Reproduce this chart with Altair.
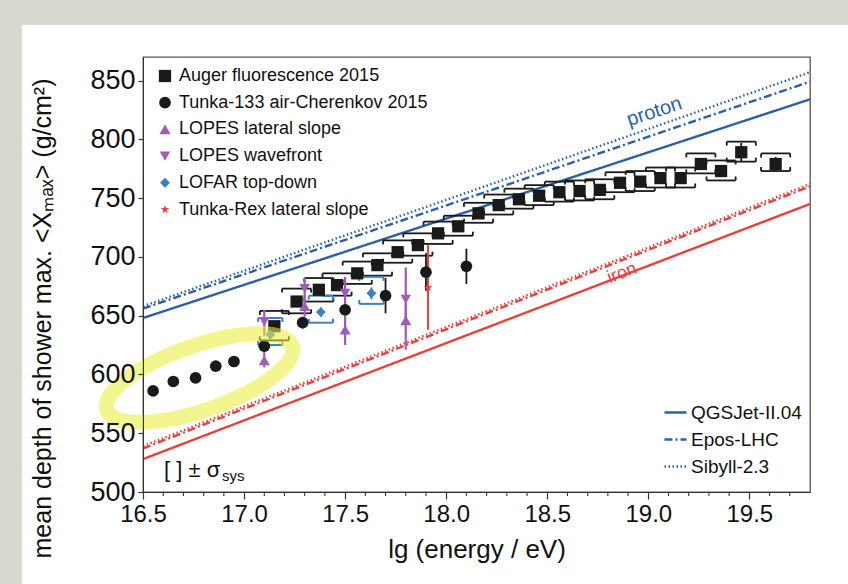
import altair as alt
import pandas as pd

# ---------------- data ----------------
auger_x = [17.15, 17.26, 17.37, 17.46, 17.56, 17.66, 17.76, 17.86, 17.96, 18.06, 18.16, 18.26, 18.36,
           18.46, 18.56, 18.66, 18.76, 18.86, 18.96, 19.06, 19.16, 19.26, 19.36, 19.46, 19.63]
auger_y = [641, 662, 672, 676, 686, 693, 704, 710, 720, 726, 737, 744, 749,
           752, 755, 756, 757, 763, 764, 767, 767, 779, 773, 789, 779]
auger_stat = [1, 1, 1, 1, 1, 1, 1, 1, 1, 1, 1, 1, 2, 2, 2, 2, 2, 2, 2, 3, 3, 4, 5, 8, 6]
auger_sys_up = [13, 11, 10, 10, 10, 10, 10, 10, 10, 9, 9, 9, 9, 9, 9, 9, 9, 9, 9, 9, 9, 9, 9, 9, 9]
auger_sys_dn = [12, 10, 10, 9, 9, 9, 9, 9, 9, 8, 8, 8, 8, 8, 8, 8, 8, 8, 8, 8, 8, 8, 8, 8, 6]

tunka_x = [16.55, 16.65, 16.76, 16.86, 16.95, 17.10, 17.29, 17.50, 17.70, 17.90, 18.10]
tunka_y = [586, 594, 597, 607, 611, 624, 644, 655, 667, 687, 692]
tunka_err = [2, 2, 2, 2, 2, 4, 5, 7, 15, 16, 15]

lopes_lat_x = [17.10, 17.30, 17.50, 17.80]
lopes_lat_y = [612, 658, 638, 646]
lopes_lat_lo = [606, 649, 625, 621]
lopes_lat_hi = [623, 668, 651, 660]

lopes_wf_x = [17.10, 17.30, 17.50, 17.80]
lopes_wf_y = [645, 673, 669, 664]
lopes_wf_lo = [633, 660, 655, 645]
lopes_wf_hi = [655, 682, 683, 691]

lofar_x = [17.13, 17.38, 17.63]
lofar_y = [634, 653, 669]
lofar_stat = [4, 4, 5]
lofar_sys_up = [14, 14, 14]
lofar_sys_dn = [9, 9, 9]

rex_x = [17.91]
rex_y = [674]
rex_lo = [638]
rex_hi = [710]

series_names = ["Auger fluorescence 2015", "Tunka-133 air-Cherenkov 2015", "LOPES lateral slope",
                "LOPES wavefront", "LOFAR top-down", "Tunka-Rex lateral slope"]

model_names = ["QGSJet-II.04", "Epos-LHC", "Sibyll-2.3"]
lg_ends = [16.5, 19.8]
proton_left = [648, 656, 658]
proton_right = [834, 849, 857]
iron_left = [528, 537, 539]
iron_right = [745, 760, 762]

x_major = [16.5, 17.0, 17.5, 18.0, 18.5, 19.0, 19.5]
x_minor = [16.6, 16.7, 16.8, 16.9, 17.1, 17.2, 17.3, 17.4, 17.6, 17.7, 17.8, 17.9,
           18.1, 18.2, 18.3, 18.4, 18.6, 18.7, 18.8, 18.9, 19.1, 19.2, 19.3, 19.4, 19.6, 19.7]
y_major = [500, 550, 600, 650, 700, 750, 800, 850]

# ---------------- styling ----------------
BLACK = "#1a1a1a"
PURPLE = "#a15cb6"
BLUE_PT = "#3a80c6"
RED = "#e8413c"
BLUE_LINE = "#2c5fa8"
RED_LINE = "#e8413c"
GRAYBG = "#d9d9d0"
STAR = "M0,-1L0.235,-0.324L0.951,-0.309L0.38,0.124L0.588,0.809L0,0.4L-0.588,0.809L-0.38,0.124L-0.951,-0.309L-0.235,-0.324Z"
ELLIPSE = "M-1,0A1,0.33,0,1,0,1,0A1,0.33,0,1,0,-1,0Z"
W, H = 667, 435
PL, PT = 143, 57
XDOM = [16.5, 19.8]
YDOM = [500, 870]
SANS = "Liberation Sans, Arial, Helvetica"

xs = alt.Scale(domain=XDOM, nice=False, zero=False)
ys = alt.Scale(domain=YDOM, nice=False, zero=False)

# ---------------- tables ----------------
pts = []
for x, y in zip(auger_x, auger_y):
    pts.append((series_names[0], x, y))
for x, y in zip(tunka_x, tunka_y):
    pts.append((series_names[1], x, y))
for x, y in zip(lopes_lat_x, lopes_lat_y):
    pts.append((series_names[2], x, y))
for x, y in zip(lopes_wf_x, lopes_wf_y):
    pts.append((series_names[3], x, y))
for x, y in zip(lofar_x, lofar_y):
    pts.append((series_names[4], x, y))
for x, y in zip(rex_x, rex_y):
    pts.append((series_names[5], x, y))
pts_df = pd.DataFrame(pts, columns=["series", "lg", "xmax"])


def brackets(xv, yv, up, dn, half, tick):
    seg = []
    for x, y, u, d in zip(xv, yv, up, dn):
        t, b = y + u, y - d
        seg += [(x - half, x + half, t, t), (x - half, x - half, t, t - tick), (x + half, x + half, t, t - tick),
                (x - half, x + half, b, b), (x - half, x - half, b, b + tick), (x + half, x + half, b, b + tick)]
    return seg


def vbars(xv, lo, hi):
    return [(x, x, l, h) for x, l, h in zip(xv, lo, hi)]


cols = ["x1", "x2", "y1", "y2"]
black_seg = brackets(auger_x, auger_y, auger_sys_up, auger_sys_dn, 0.072, 3.4)
black_seg += vbars(auger_x, [y - s for y, s in zip(auger_y, auger_stat)], [y + s for y, s in zip(auger_y, auger_stat)])
black_seg += vbars(tunka_x, [y - e for y, e in zip(tunka_y, tunka_err)], [y + e for y, e in zip(tunka_y, tunka_err)])
black_df = pd.DataFrame(black_seg, columns=cols)

purple_df = pd.DataFrame(vbars(lopes_lat_x, lopes_lat_lo, lopes_lat_hi) + vbars(lopes_wf_x, lopes_wf_lo, lopes_wf_hi), columns=cols)
blue_seg = brackets(lofar_x, lofar_y, lofar_sys_up, lofar_sys_dn, 0.06, 3.4)
blue_seg += vbars(lofar_x, [y - s for y, s in zip(lofar_y, lofar_stat)], [y + s for y, s in zip(lofar_y, lofar_stat)])
blue_df = pd.DataFrame(blue_seg, columns=cols)
red_df = pd.DataFrame(vbars(rex_x, rex_lo, rex_hi), columns=cols)

lines = []
for m, l, r in zip(model_names, proton_left, proton_right):
    lines += [("proton", m, lg_ends[0], l), ("proton", m, lg_ends[1], r)]
for m, l, r in zip(model_names, iron_left, iron_right):
    lines += [("iron", m, lg_ends[0], l), ("iron", m, lg_ends[1], r)]
lines_df = pd.DataFrame(lines, columns=["comp", "model", "lg", "xmax"])

one = pd.DataFrame({"a": [0]})

# ---------------- layers ----------------
strip_top = alt.Chart(one).mark_rect(color=GRAYBG).encode(
    x=alt.value(-PL), x2=alt.value(848 - PL), y=alt.value(-PT), y2=alt.value(25 - PT))
strip_left = alt.Chart(one).mark_rect(color=GRAYBG).encode(
    x=alt.value(-PL), x2=alt.value(22 - PL), y=alt.value(-PT), y2=alt.value(584 - PT))

model_lines = alt.Chart(lines_df).mark_line(strokeWidth=2.4, clip=True).encode(
    x=alt.X("lg:Q", scale=xs,
            axis=alt.Axis(values=x_major, format=".1f", title="lg (energy / eV)", grid=False, zindex=1,
                          tickSize=7, tickWidth=1.2, tickColor="#333", domainColor="#333",
                          labelFont=SANS, labelFontSize=24, labelColor="#111", labelPadding=3,
                          labelFlush=False, labelOverlap=False,
                          titleFont=SANS, titleFontSize=26, titleFontWeight="normal", titleColor="#111",
                          titlePadding=10)),
    y=alt.Y("xmax:Q", scale=ys,
            axis=alt.Axis(values=y_major, format="d", title="mean depth of shower max. <Xₘₐₓ> (g/cm²)",
                          grid=False, zindex=1, tickSize=5, tickWidth=1.2, tickColor="#333", domainColor="#333",
                          labelFont=SANS, labelFontSize=27, labelColor="#111", labelPadding=3,
                          labelFlush=False, labelOverlap=False,
                          titleFont=SANS, titleFontSize=25, titleFontWeight="normal", titleColor="#111",
                          titleX=-101, titleY=261, titleAngle=270, titleAlign="center",
                          titleBaseline="middle")),
    stroke=alt.Stroke("comp:N", scale=alt.Scale(domain=["proton", "iron"], range=[BLUE_LINE, RED_LINE]), legend=None),
    strokeDash=alt.StrokeDash("model:N", scale=alt.Scale(domain=model_names, range=[[1, 0], [8, 3, 2, 3], [1.5, 2.5]]),
                              legend=alt.Legend(title=None, orient="none", legendX=520, legendY=343,
                                                symbolType="stroke", symbolSize=484, symbolStrokeWidth=2.4,
                                                symbolStrokeColor=BLUE_LINE, labelFont=SANS, labelFontSize=19,
                                                labelColor="#111", rowPadding=4, labelOffset=3, padding=0,
                                                labelLimit=0)),
)


def seg_layer(df, color, width=1.8):
    return alt.Chart(df).mark_rule(color=color, strokeWidth=width).encode(
        x=alt.X("x1:Q", scale=xs), x2="x2:Q", y=alt.Y("y1:Q", scale=ys), y2="y2:Q")


sym_legend = alt.Legend(title=None, orient="none", legendX=13, legendY=10, symbolSize=140,
                        labelFont=SANS, labelFontSize=18, labelColor="#111", rowPadding=8.7,
                        labelOffset=5, padding=0, symbolStrokeWidth=0, labelLimit=0)

points = alt.Chart(pts_df).mark_point(filled=True, opacity=1).encode(
    x=alt.X("lg:Q", scale=xs),
    y=alt.Y("xmax:Q", scale=ys),
    shape=alt.Shape("series:N", scale=alt.Scale(domain=series_names,
                                                range=["square", "circle", "triangle-up", "triangle-down", "diamond", STAR]),
                    legend=sym_legend),
    color=alt.Color("series:N", scale=alt.Scale(domain=series_names,
                                                range=[BLACK, BLACK, PURPLE, PURPLE, BLUE_PT, RED]),
                    legend=sym_legend),
    size=alt.Size("series:N", scale=alt.Scale(domain=series_names, range=[150, 85, 115, 115, 230, 110]), legend=None),
)

ellipse_df = pd.DataFrame({"lg": [16.78], "xmax": [597]})
ellipse = alt.Chart(ellipse_df).mark_point(shape=ELLIPSE, filled=False, stroke="#ebee3c", strokeWidth=15,
                                           strokeOpacity=0.82, size=38416, angle=341).encode(
    x=alt.X("lg:Q", scale=xs), y=alt.Y("xmax:Q", scale=ys))

ann_df = pd.DataFrame({"lg": [19.03, 18.87], "xmax": [823.5, 686], "txt": ["proton", "iron"]})
proton_txt = alt.Chart(ann_df.iloc[[0]]).mark_text(font=SANS, fontSize=20, color=BLUE_LINE, angle=342).encode(
    x=alt.X("lg:Q", scale=xs), y=alt.Y("xmax:Q", scale=ys), text="txt:N")
iron_txt = alt.Chart(ann_df.iloc[[1]]).mark_text(font=SANS, fontSize=18, color=RED, angle=339).encode(
    x=alt.X("lg:Q", scale=xs), y=alt.Y("xmax:Q", scale=ys), text="txt:N")

sys_txt = alt.Chart(one).mark_text(font=SANS, fontSize=22, color="#111", align="left", baseline="middle").encode(
    x=alt.value(21), y=alt.value(413), text=alt.value("[ ] ± σ"))
sys_sub = alt.Chart(one).mark_text(font=SANS, fontSize=15, color="#111", align="left", baseline="middle").encode(
    x=alt.value(79), y=alt.value(419), text=alt.value("sys"))

minor_df = pd.DataFrame({"lg": x_minor})
minor = alt.Chart(minor_df).mark_rule(color="#333", strokeWidth=1.1).encode(
    x=alt.X("lg:Q", scale=xs), y=alt.value(H), y2=alt.value(H + 4))

chart = alt.layer(
    strip_top, strip_left, model_lines, seg_layer(black_df, BLACK), seg_layer(purple_df, PURPLE, 2.2),
    seg_layer(blue_df, BLUE_PT, 2.0), seg_layer(red_df, RED, 2.0), points, ellipse,
    proton_txt, iron_txt, sys_txt, sys_sub, minor
).properties(
    width=W, height=H,
    autosize=alt.AutoSizeParams(type="none"),
    padding={"left": PL, "top": PT, "right": 848 - PL - W, "bottom": 584 - PT - H},
    background="white",
).configure_view(stroke="#555", strokeWidth=1.3)

chart.save("out.html", embed_options={"renderer": "svg", "actions": False})
